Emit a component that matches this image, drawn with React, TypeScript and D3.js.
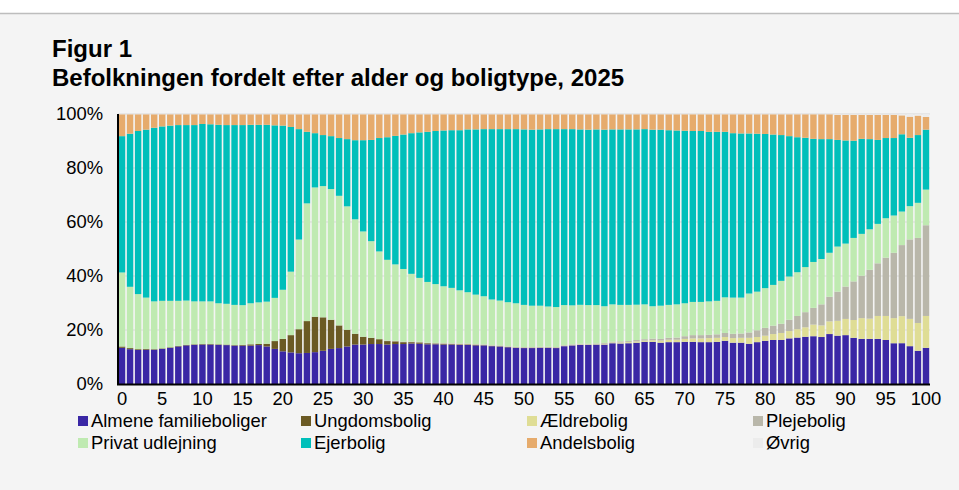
import { useMemo } from 'react';
import * as d3 from 'd3';

const ages = d3.range(0, 101);

const seriesNames = [
  'Almene familieboliger',
  'Ungdomsbolig',
  'Ældrebolig',
  'Plejebolig',
  'Privat udlejning',
  'Ejerbolig',
  'Andelsbolig',
  'Øvrig',
];

const seriesColors = ['#3a27a5', '#6b5a24', '#dfdd95', '#b9b7aa', '#bfeab1', '#00bfba', '#e6ab6c', '#ececec'];

// shares in percent, age 0..100
const almene = [
  13.4, 12.9, 12.6, 12.7, 12.7, 13.0, 13.4, 13.9, 14.3, 14.5, 14.6, 14.6, 14.5, 14.4, 14.2, 14.2, 14.2, 14.4, 13.9, 13.0,
  12.1, 11.7, 11.4, 11.5, 11.8, 12.3, 13.0, 13.3, 13.9, 14.6, 14.6, 14.8, 14.8, 14.6, 14.8, 14.8, 15.0, 14.9, 14.7, 14.7,
  14.6, 14.6, 14.5, 14.5, 14.3, 14.3, 14.0, 13.9, 13.6, 13.4, 13.3, 13.3, 13.4, 13.4, 13.3, 14.0, 14.3, 14.5, 14.5, 14.6,
  14.6, 15.1, 15.0, 15.1, 15.3, 15.6, 15.6, 15.3, 15.5, 15.5, 15.6, 15.6, 15.5, 15.5, 15.6, 16.0, 15.3, 15.3, 14.9, 15.5,
  16.0, 16.3, 16.3, 16.9, 17.2, 17.5, 17.7, 17.4, 18.5, 17.9, 18.1, 17.1, 16.7, 16.7, 16.7, 16.3, 15.1, 15.1, 14.0, 12.3,
  13.4,
];
const ungdom = [
  0.5, 0.4, 0.3, 0.3, 0.2, 0.2, 0.2, 0.2, 0.2, 0.2, 0.2, 0.2, 0.2, 0.2, 0.2, 0.3, 0.5, 0.4, 1.0, 2.9,
  4.6, 6.4, 8.9, 11.8, 13.1, 12.4, 10.8, 8.4, 6.2, 4.0, 2.9, 2.3, 1.8, 1.3, 1.0, 0.7, 0.5, 0.5, 0.4, 0.3,
  0.3, 0.2, 0.2, 0.2, 0.2, 0.1, 0.1, 0.1, 0.1, 0.1, 0.1, 0.1, 0.1, 0.1, 0.1, 0, 0, 0, 0, 0,
  0, 0, 0, 0, 0, 0, 0, 0, 0, 0, 0, 0, 0, 0, 0, 0, 0, 0, 0, 0,
  0, 0, 0, 0, 0, 0, 0, 0, 0, 0, 0, 0, 0, 0, 0, 0, 0, 0, 0, 0,
  0,
];
const aeldre = [
  0, 0, 0, 0, 0, 0, 0, 0, 0, 0, 0, 0, 0, 0, 0, 0, 0, 0, 0, 0,
  0, 0, 0, 0, 0, 0, 0, 0, 0, 0, 0, 0, 0, 0, 0, 0, 0, 0, 0, 0,
  0.1, 0.1, 0.1, 0.1, 0.1, 0.1, 0.1, 0.1, 0.1, 0.1, 0.1, 0.1, 0.1, 0.1, 0.1, 0.2, 0.2, 0.2, 0.2, 0.2,
  0.3, 0.3, 0.4, 0.4, 0.5, 0.5, 0.6, 0.8, 0.9, 0.9, 1.1, 1.3, 1.4, 1.5, 1.5, 1.4, 1.7, 1.8, 2.2, 1.9,
  1.9, 2.2, 2.6, 2.7, 3.1, 3.5, 4.3, 4.3, 4.7, 5.5, 6.0, 6.6, 7.7, 7.5, 8.5, 8.9, 9.3, 10.0, 10.1, 10.3,
  11.8,
];
const pleje = [
  0, 0, 0, 0, 0, 0, 0, 0, 0, 0, 0, 0, 0, 0, 0, 0, 0, 0, 0, 0,
  0, 0, 0, 0, 0, 0, 0, 0, 0, 0, 0, 0, 0, 0.2, 0.2, 0.2, 0.2, 0.2, 0.2, 0.2,
  0.2, 0.2, 0.2, 0.2, 0.2, 0.2, 0.2, 0.2, 0.2, 0.2, 0.2, 0.2, 0.2, 0.2, 0.2, 0.2, 0.2, 0.2, 0.2, 0.2,
  0.3, 0.3, 0.4, 0.4, 0.5, 0.5, 0.6, 0.6, 0.7, 0.8, 1.0, 1.2, 1.2, 1.2, 1.3, 1.5, 1.6, 1.6, 2.0, 2.5,
  2.9, 3.1, 3.4, 4.2, 4.9, 5.6, 6.2, 7.8, 9.1, 10.8, 12.0, 14.3, 15.7, 18.1, 19.5, 21.6, 24.2, 26.3, 29.4, 31.5,
  33.6,
];
const privat = [
  27.4, 22.7, 20.4, 19.0, 17.7, 17.6, 17.2, 16.7, 16.4, 15.9, 15.8, 15.8, 15.2, 15.1, 14.9, 14.7, 15.2, 15.4, 15.6, 16.0,
  18.2, 23.5, 33.2, 43.6, 47.9, 48.6, 48.4, 48.0, 45.7, 42.4, 39.0, 35.8, 32.5, 29.9, 28.3, 26.9, 25.1, 23.7, 22.5, 21.8,
  21.0, 20.5, 19.7, 19.0, 18.3, 17.8, 16.9, 16.6, 16.3, 16.1, 15.6, 15.3, 15.2, 14.9, 14.8, 14.8, 14.4, 14.4, 14.3, 14.2,
  13.6, 13.8, 13.5, 13.4, 13.1, 12.9, 12.0, 12.3, 12.2, 12.3, 12.2, 12.3, 12.3, 12.4, 12.4, 13.2, 13.4, 13.3, 14.4, 14.3,
  14.7, 15.1, 15.9, 16.0, 16.2, 16.7, 17.0, 16.8, 16.3, 16.7, 15.9, 16.1, 15.5, 15.0, 14.6, 14.6, 13.8, 12.4, 12.3, 13.0,
  13.2,
];
const ejer = [
  50.5, 56.7, 60.4, 62.2, 64.3, 64.6, 64.9, 65.1, 65.0, 65.3, 65.7, 65.6, 66.1, 66.2, 66.6, 66.7, 66.1, 65.7, 65.5, 63.9,
  60.8, 53.6, 40.9, 26.5, 20.1, 18.9, 19.6, 21.4, 24.9, 29.3, 33.8, 37.5, 42.0, 45.4, 47.6, 49.8, 52.1, 53.9, 55.6, 56.7,
  57.7, 58.4, 59.3, 60.3, 61.2, 61.9, 63.1, 63.5, 64.1, 64.5, 65.0, 65.2, 65.3, 65.7, 65.9, 65.1, 65.2, 64.9, 64.9, 65.0,
  65.4, 64.8, 65.0, 65.0, 65.0, 64.9, 65.4, 65.2, 64.7, 64.4, 63.9, 63.3, 63.3, 62.8, 62.6, 61.3, 60.9, 60.8, 59.3, 58.5,
  57.1, 55.7, 54.0, 52.0, 50.0, 47.9, 45.6, 44.4, 42.1, 39.5, 38.2, 36.0, 35.2, 33.4, 31.1, 29.7, 28.7, 28.6, 25.3, 25.1,
  22.2,
];
const andel = [
  8.1, 7.2, 6.2, 5.7, 5.0, 4.5, 4.2, 4.0, 4.0, 4.0, 3.6, 3.7, 3.9, 4.0, 4.0, 4.0, 3.9, 3.9, 3.9, 4.1,
  4.2, 4.7, 5.5, 6.5, 7.0, 7.7, 8.1, 8.8, 9.2, 9.6, 9.6, 9.5, 8.8, 8.5, 8.0, 7.5, 7.0, 6.7, 6.5, 6.2,
  6.0, 5.9, 5.9, 5.6, 5.6, 5.5, 5.5, 5.5, 5.5, 5.5, 5.6, 5.7, 5.6, 5.5, 5.5, 5.5, 5.5, 5.6, 5.7, 5.6,
  5.7, 5.6, 5.6, 5.6, 5.6, 5.5, 5.7, 5.7, 5.9, 6.0, 6.1, 6.2, 6.2, 6.5, 6.5, 6.5, 7.0, 7.1, 7.1, 7.2,
  7.3, 7.5, 7.7, 8.1, 8.5, 8.7, 9.1, 9.2, 9.2, 9.3, 9.5, 9.6, 8.9, 9.0, 9.3, 8.6, 8.6, 7.0, 7.8, 7.2,
  4.7,
];
const oevrig = [
  0.1, 0.1, 0.1, 0.1, 0.1, 0.1, 0.1, 0.1, 0.1, 0.1, 0.1, 0.1, 0.1, 0.1, 0.1, 0.1, 0.1, 0.1, 0.1, 0.1,
  0.1, 0.1, 0.1, 0.1, 0.1, 0.1, 0.1, 0.1, 0.1, 0.1, 0.1, 0.1, 0.1, 0.1, 0.1, 0.1, 0.1, 0.1, 0.1, 0.1,
  0.1, 0.1, 0.1, 0.1, 0.1, 0.1, 0.1, 0.1, 0.1, 0.1, 0.1, 0.1, 0.1, 0.1, 0.1, 0.1, 0.1, 0.1, 0.1, 0.1,
  0.1, 0.1, 0.1, 0.1, 0.1, 0.1, 0.1, 0.1, 0.1, 0.1, 0.1, 0.1, 0.1, 0.1, 0.1, 0.1, 0.1, 0.1, 0.1, 0.1,
  0.1, 0.1, 0.1, 0.1, 0.1, 0.1, 0.1, 0.1, 0.1, 0.3, 0.3, 0.3, 0.3, 0.3, 0.3, 0.3, 0.3, 0.5, 1.0, 0.6,
  1.1,
];

const seriesValues = [almene, ungdom, aeldre, pleje, privat, ejer, andel, oevrig];
const yTicks = [0, 0.2, 0.4, 0.6, 0.8, 1];
const xTicks = d3.range(0, 101, 5);

const W = 959;
const H = 490;
const plot = { left: 118, right: 930, top: 114, bottom: 384 };
const font = 'Arial, "Liberation Sans", sans-serif';
const small = 18.4;

export default function App() {
  const rows = useMemo(
    () =>
      ages.map((age, i) => {
        const row: Record<string, number> = { age };
        seriesNames.forEach((name, s) => {
          row[name] = seriesValues[s][i];
        });
        return row;
      }),
    []
  );

  const stacked = useMemo(
    () => d3.stack<Record<string, number>>().keys(seriesNames).offset(d3.stackOffsetExpand)(rows),
    [rows]
  );

  const x = d3
    .scaleBand<number>()
    .domain(ages)
    .range([plot.left, plot.right])
    .paddingInner(0.2)
    .paddingOuter(0.1);
  const y = d3.scaleLinear().domain([0, 1]).range([plot.bottom, plot.top]);

  const legendCols = [78, 301, 527, 753];
  const legendRows = [421, 443];

  return (
    <svg
      width={W}
      height={H}
      viewBox={`0 0 ${W} ${H}`}
      style={{ position: 'absolute', left: 0, top: 0, display: 'block' }}
      fontFamily={font}
    >
      <rect x={0} y={0} width={W} height={H} fill="#ffffff" />
      <rect x={0} y={13} width={W} height={H - 13} fill="#f4f4f4" />
      <line x1={0} x2={W} y1={13.5} y2={13.5} stroke="#bdbdbd" strokeWidth={1.5} />

      <text x={52} y={57} fontSize={24} fontWeight="bold" fill="#000">
        Figur 1
      </text>
      <text x={52} y={86} fontSize={24} fontWeight="bold" fill="#000">
        Befolkningen fordelt efter alder og boligtype, 2025
      </text>

      {yTicks.map((t) => (
        <g key={t}>
          {t > 0 && (
            <line x1={plot.left} x2={plot.right} y1={y(t)} y2={y(t)} stroke="#d9d9d9" strokeWidth={1} />
          )}
          <text x={103} y={y(t)} dy="0.35em" textAnchor="end" fontSize={small} fill="#000">
            {d3.format('.0%')(t)}
          </text>
        </g>
      ))}

      {stacked.map((layer, s) => (
        <g key={layer.key} fill={seriesColors[s]}>
          {layer.map((d) => {
            const age = d.data.age;
            const h = y(d[0]) - y(d[1]);
            if (h <= 0) return null;
            return <rect key={age} x={x(age)} y={y(d[1])} width={x.bandwidth()} height={h} />;
          })}
        </g>
      ))}

      <line x1={plot.left} x2={plot.left} y1={plot.top} y2={plot.bottom + 1} stroke="#000" strokeWidth={2} />
      <line x1={plot.left - 1} x2={plot.right} y1={plot.bottom + 0.5} y2={plot.bottom + 0.5} stroke="#000" strokeWidth={2} />

      {xTicks.map((t) => (
        <text key={t} x={(x(t) ?? 0) + x.bandwidth() / 2} y={405} textAnchor="middle" fontSize={small} fill="#000">
          {t}
        </text>
      ))}

      {seriesNames.map((name, s) => {
        const cx = legendCols[s % 4];
        const cy = legendRows[Math.floor(s / 4)];
        return (
          <g key={name}>
            <rect x={cx} y={cy - 5} width={10} height={10} fill={seriesColors[s]} />
            <text x={cx + 13} y={cy} dy="0.35em" fontSize={small} fill="#000">
              {name}
            </text>
          </g>
        );
      })}
    </svg>
  );
}
